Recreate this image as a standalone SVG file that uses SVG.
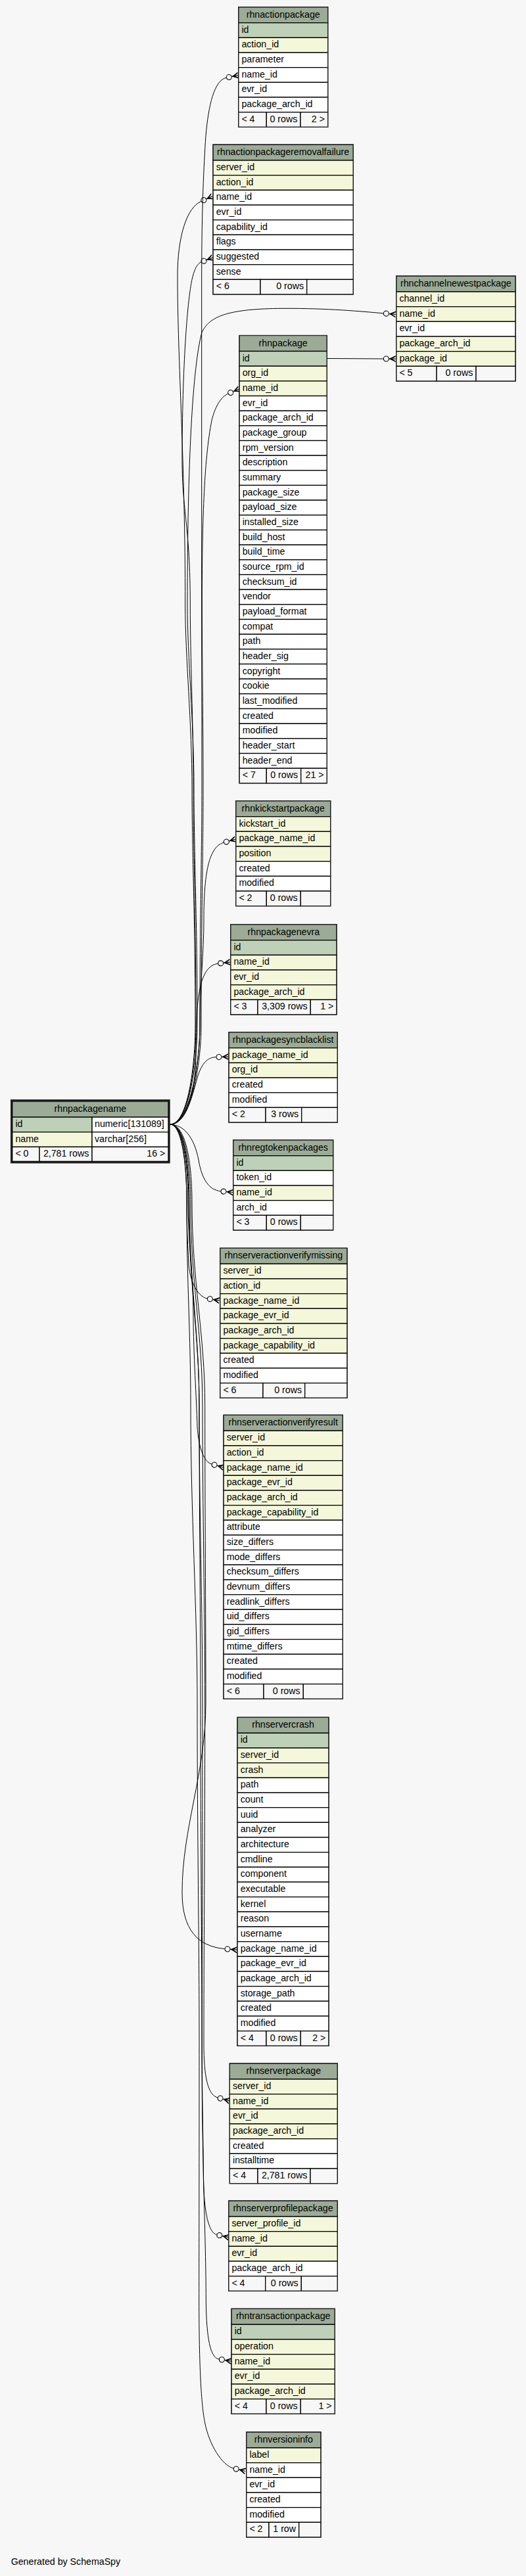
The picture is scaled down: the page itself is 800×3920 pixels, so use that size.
<svg xmlns="http://www.w3.org/2000/svg" width="800" height="3920" viewBox="0 0 800 3920">
<style>
.c{stroke:#000;stroke-width:1.3}
.h{fill:#9bab96}
.k{fill:#bed1b8}
.f{fill:#f4f7da}
.w{fill:#fff}
.g{fill:#f7f7f7}
.o{fill:none;stroke:#2a2a2a;stroke-width:1}
text{font-family:"Liberation Sans",Arial,Helvetica,sans-serif;font-size:14.2px;fill:#000}
.m{text-anchor:middle}
.r{text-anchor:end}
.e{fill:none;stroke:#000;stroke-width:1;marker-end:url(#cf)}
</style>
<defs>
<marker id="cf" markerUnits="userSpaceOnUse" viewBox="-2 -7 24 14" markerWidth="24" markerHeight="14" refX="0" refY="0" orient="auto" overflow="visible">
<circle cx="4.3" cy="0" r="4" fill="none" stroke="#000" stroke-width="1.1"/>
<polygon points="8.6,0 18.7,-5 18.7,-3.2 12.8,0 18.7,3.2 18.7,5" fill="#000"/>
<path d="M8.6,0 L18.7,0" stroke="#000" stroke-width="1.2"/>
</marker>
</defs>
<rect x="0" y="0" width="800" height="3920" fill="#f7f7f7"/>

<g id="connectors">
<path class="e" d="M258.7,1711 C289,1711 304,1620 304,1560 C304,1400 307,1300 307,1200 C307,1100 306.7,1000 306.7,900 L306.7,420 C306.7,320 310,250 313,207 C317,160 326,122 344.1,118.3"/>
<path class="e" d="M258.7,1711 C286,1711 297,1620 297,1560 C297,1400 292,1300 292,1200 C292,1100 281.7,1000 281.7,920 C281.7,700 270,550 270,420 C270,360 284,316 305.9,306.3"/>
<path class="e" d="M258.7,1711 C287,1711 298,1620 298,1560 C298,1400 294,1300 294,1200 C294,1100 289.3,1000 289.3,920 C289.3,800 277,780 277,700 C277,560 285,450 293.3,420 C296,410 300,401 306,398.7"/>
<path class="e" d="M258.7,1711 C287,1711 300,1620 300,1560 C300,1400 295,1300 295,1200 C295,1100 285,1000 285,920 C285,700 293,560 306.7,506.7 C318,480 350,470 430,469.3 C500,469 550,474 583,476.8"/>
<path class="e" d="M258.7,1711 C290,1711 306,1620 306,1560 C306,1400 309,1300 309,1200 C309,1100 307.3,1000 307.3,920 C307.3,800 310,700 322,640 C328,615 338,603 346.8,599.2"/>
<path class="e" d="M497.3,545.5 L583,546"/>
<path class="e" d="M258.7,1711 C288,1711 304,1620 304,1560 C304,1500 310,1450 310,1400 C310,1320 320,1288 340.2,1282.2"/>
<path class="e" d="M258.7,1711 C285,1711 298,1660 298,1600 C298,1520 303,1470 331.4,1466.4"/>
<path class="e" d="M258.7,1711 C282,1711 292,1670 300,1640 C307,1618 315,1609 328.7,1608.6"/>
<path class="e" d="M258.7,1711 C280,1712 295,1730 302,1765 C307,1795 318,1811 335.7,1812.7"/>
<path class="e" d="M258.7,1711 C278,1711 284,1780 284,1830 C284,1870 286,1900 287,1925 C290,1955 303,1974 315.1,1976"/>
<path class="e" d="M258.7,1711 C280,1711 286,1780 286,1830 C286,1890 294,1940 294,2000 C294,2060 299,2130 300,2170 C302,2205 311,2225 321.9,2228"/>
<path class="e" d="M258.7,1711 C285,1711 292,1780 292,1830 C292,1950 311.7,2030 311.7,2140 C311.7,2300 313,2450 313,2590 C313,2700 277,2780 277,2880 C277,2935 300,2962 341.7,2965.6"/>
<path class="e" d="M258.7,1711 C283,1711 290,1780 290,1830 C290,1950 308,2030 308,2140 C308,2300 311.7,2450 311.7,2590 C311.7,2800 310,2950 310,3110 C310,3160 316,3188 330.9,3192"/>
<path class="e" d="M258.7,1711 C282,1711 288,1780 288,1830 C288,1950 303,2030 303,2140 C303,2300 308,2450 308,2590 C308,2800 307.3,2950 307.3,3110 C307.3,3200 309.3,3260 309.3,3310 C310,3370 318,3398 329.6,3400.6"/>
<path class="e" d="M258.7,1711 C281,1711 287,1780 287,1830 C287,1950 303,2030 303,2140 C303,2300 305,2450 305,2590 C305,2800 307,2950 307,3110 C307,3300 313.3,3400 313.3,3500 C314,3560 320,3588 333.1,3590.1"/>
<path class="e" d="M258.7,1711 C279,1711 284,1780 284,1830 C284,1950 290,2030 290,2140 C290,2300 300,2450 300,2590 C300,2800 303,2950 303,3110 C303,3300 302.7,3400 302.7,3500 C302.7,3600 306,3660 311.7,3687 C318,3720 338,3752 355,3756.1"/>
</g>

<g id="rhnactionpackage" transform="translate(362.7,10.7)">
<rect class="c h" width="136" height="24"/><text class="m" x="68" y="16">rhnactionpackage</text>
<rect class="c k" y="24" width="136" height="22.67"/><text x="4.7" y="39">id</text>
<rect class="c f" y="46.67" width="136" height="22.67"/><text x="4.7" y="61.67">action_id</text>
<rect class="c w" y="69.33" width="136" height="22.67"/><text x="4.7" y="84.33">parameter</text>
<rect class="c w" y="92" width="136" height="22.67"/><text x="4.7" y="107">name_id</text>
<rect class="c w" y="114.67" width="136" height="22.67"/><text x="4.7" y="129.67">evr_id</text>
<rect class="c w" y="137.33" width="136" height="22.67"/><text x="4.7" y="152.33">package_arch_id</text>
<rect class="c g" y="160" width="42.6" height="22.67"/><rect class="c g" x="42.6" y="160" width="51.7" height="22.67"/><rect class="c g" x="94.3" y="160" width="41.7" height="22.67"/>
<text x="4.7" y="175">&lt; 4</text><text class="r" x="89.6" y="175">0 rows</text><text class="r" x="131.3" y="175">2 &gt;</text>
<rect class="o" width="136" height="182.67"/>
</g>

<g id="rhnactionpackageremovalfailure" transform="translate(324,220)">
<rect class="c h" width="213.3" height="24"/><text class="m" x="106.65" y="16">rhnactionpackageremovalfailure</text>
<rect class="c f" y="24" width="213.3" height="22.67"/><text x="4.7" y="39">server_id</text>
<rect class="c f" y="46.67" width="213.3" height="22.67"/><text x="4.7" y="61.67">action_id</text>
<rect class="c w" y="69.33" width="213.3" height="22.67"/><text x="4.7" y="84.33">name_id</text>
<rect class="c w" y="92" width="213.3" height="22.67"/><text x="4.7" y="107">evr_id</text>
<rect class="c w" y="114.67" width="213.3" height="22.67"/><text x="4.7" y="129.67">capability_id</text>
<rect class="c w" y="137.33" width="213.3" height="22.67"/><text x="4.7" y="152.33">flags</text>
<rect class="c w" y="160" width="213.3" height="22.67"/><text x="4.7" y="175">suggested</text>
<rect class="c w" y="182.67" width="213.3" height="22.67"/><text x="4.7" y="197.67">sense</text>
<rect class="c g" y="205.33" width="72" height="22.67"/><rect class="c g" x="72" y="205.33" width="70.7" height="22.67"/><rect class="c g" x="142.7" y="205.33" width="70.6" height="22.67"/>
<text x="4.7" y="220.33">&lt; 6</text><text class="r" x="138" y="220.33">0 rows</text>
<rect class="o" width="213.3" height="228"/>
</g>

<g id="rhnchannelnewestpackage" transform="translate(602.7,420)">
<rect class="c h" width="181.3" height="24"/><text class="m" x="90.65" y="16">rhnchannelnewestpackage</text>
<rect class="c f" y="24" width="181.3" height="22.67"/><text x="4.7" y="39">channel_id</text>
<rect class="c f" y="46.67" width="181.3" height="22.67"/><text x="4.7" y="61.67">name_id</text>
<rect class="c w" y="69.33" width="181.3" height="22.67"/><text x="4.7" y="84.33">evr_id</text>
<rect class="c f" y="92" width="181.3" height="22.67"/><text x="4.7" y="107">package_arch_id</text>
<rect class="c f" y="114.67" width="181.3" height="22.67"/><text x="4.7" y="129.67">package_id</text>
<rect class="c g" y="137.33" width="61.3" height="22.67"/><rect class="c g" x="61.3" y="137.33" width="60" height="22.67"/><rect class="c g" x="121.3" y="137.33" width="60" height="22.67"/>
<text x="4.7" y="152.33">&lt; 5</text><text class="r" x="116.6" y="152.33">0 rows</text>
<rect class="o" width="181.3" height="160"/>
</g>

<g id="rhnpackage" transform="translate(364,510.5)">
<rect class="c h" width="133.3" height="24"/><text class="m" x="66.65" y="16">rhnpackage</text>
<rect class="c k" y="24" width="133.3" height="22.67"/><text x="4.7" y="39">id</text>
<rect class="c f" y="46.67" width="133.3" height="22.67"/><text x="4.7" y="61.67">org_id</text>
<rect class="c f" y="69.33" width="133.3" height="22.67"/><text x="4.7" y="84.33">name_id</text>
<rect class="c w" y="92" width="133.3" height="22.67"/><text x="4.7" y="107">evr_id</text>
<rect class="c w" y="114.67" width="133.3" height="22.67"/><text x="4.7" y="129.67">package_arch_id</text>
<rect class="c w" y="137.33" width="133.3" height="22.67"/><text x="4.7" y="152.33">package_group</text>
<rect class="c w" y="160" width="133.3" height="22.67"/><text x="4.7" y="175">rpm_version</text>
<rect class="c w" y="182.67" width="133.3" height="22.67"/><text x="4.7" y="197.67">description</text>
<rect class="c w" y="205.33" width="133.3" height="22.67"/><text x="4.7" y="220.33">summary</text>
<rect class="c w" y="228" width="133.3" height="22.67"/><text x="4.7" y="243">package_size</text>
<rect class="c w" y="250.67" width="133.3" height="22.67"/><text x="4.7" y="265.67">payload_size</text>
<rect class="c w" y="273.33" width="133.3" height="22.67"/><text x="4.7" y="288.33">installed_size</text>
<rect class="c w" y="296" width="133.3" height="22.67"/><text x="4.7" y="311">build_host</text>
<rect class="c w" y="318.67" width="133.3" height="22.67"/><text x="4.7" y="333.67">build_time</text>
<rect class="c w" y="341.33" width="133.3" height="22.67"/><text x="4.7" y="356.33">source_rpm_id</text>
<rect class="c w" y="364" width="133.3" height="22.67"/><text x="4.7" y="379">checksum_id</text>
<rect class="c w" y="386.67" width="133.3" height="22.67"/><text x="4.7" y="401.67">vendor</text>
<rect class="c w" y="409.33" width="133.3" height="22.67"/><text x="4.7" y="424.33">payload_format</text>
<rect class="c w" y="432" width="133.3" height="22.67"/><text x="4.7" y="447">compat</text>
<rect class="c w" y="454.67" width="133.3" height="22.67"/><text x="4.7" y="469.67">path</text>
<rect class="c w" y="477.33" width="133.3" height="22.67"/><text x="4.7" y="492.33">header_sig</text>
<rect class="c w" y="500" width="133.3" height="22.67"/><text x="4.7" y="515">copyright</text>
<rect class="c w" y="522.67" width="133.3" height="22.67"/><text x="4.7" y="537.67">cookie</text>
<rect class="c w" y="545.33" width="133.3" height="22.67"/><text x="4.7" y="560.33">last_modified</text>
<rect class="c w" y="568" width="133.3" height="22.67"/><text x="4.7" y="583">created</text>
<rect class="c w" y="590.67" width="133.3" height="22.67"/><text x="4.7" y="605.67">modified</text>
<rect class="c w" y="613.33" width="133.3" height="22.67"/><text x="4.7" y="628.33">header_start</text>
<rect class="c w" y="636" width="133.3" height="22.67"/><text x="4.7" y="651">header_end</text>
<rect class="c g" y="658.67" width="41.3" height="22.67"/><rect class="c g" x="41.3" y="658.67" width="52.4" height="22.67"/><rect class="c g" x="93.7" y="658.67" width="39.6" height="22.67"/>
<text x="4.7" y="673.67">&lt; 7</text><text class="r" x="89" y="673.67">0 rows</text><text class="r" x="128.6" y="673.67">21 &gt;</text>
<rect class="o" width="133.3" height="681.33"/>
</g>

<g id="rhnkickstartpackage" transform="translate(358.7,1218.7)">
<rect class="c h" width="144" height="24"/><text class="m" x="72" y="16">rhnkickstartpackage</text>
<rect class="c f" y="24" width="144" height="22.67"/><text x="4.7" y="39">kickstart_id</text>
<rect class="c f" y="46.67" width="144" height="22.67"/><text x="4.7" y="61.67">package_name_id</text>
<rect class="c f" y="69.33" width="144" height="22.67"/><text x="4.7" y="84.33">position</text>
<rect class="c w" y="92" width="144" height="22.67"/><text x="4.7" y="107">created</text>
<rect class="c w" y="114.67" width="144" height="22.67"/><text x="4.7" y="129.67">modified</text>
<rect class="c g" y="137.33" width="46.6" height="22.67"/><rect class="c g" x="46.6" y="137.33" width="52" height="22.67"/><rect class="c g" x="98.6" y="137.33" width="45.4" height="22.67"/>
<text x="4.7" y="152.33">&lt; 2</text><text class="r" x="93.9" y="152.33">0 rows</text>
<rect class="o" width="144" height="160"/>
</g>

<g id="rhnpackagenevra" transform="translate(350.7,1406.7)">
<rect class="c h" width="161.3" height="24"/><text class="m" x="80.65" y="16">rhnpackagenevra</text>
<rect class="c k" y="24" width="161.3" height="22.67"/><text x="4.7" y="39">id</text>
<rect class="c f" y="46.67" width="161.3" height="22.67"/><text x="4.7" y="61.67">name_id</text>
<rect class="c f" y="69.33" width="161.3" height="22.67"/><text x="4.7" y="84.33">evr_id</text>
<rect class="c f" y="92" width="161.3" height="22.67"/><text x="4.7" y="107">package_arch_id</text>
<rect class="c g" y="114.67" width="41.3" height="22.67"/><rect class="c g" x="41.3" y="114.67" width="80.3" height="22.67"/><rect class="c g" x="121.6" y="114.67" width="39.7" height="22.67"/>
<text x="4.7" y="129.67">&lt; 3</text><text class="r" x="116.9" y="129.67">3,309 rows</text><text class="r" x="156.6" y="129.67">1 &gt;</text>
<rect class="o" width="161.3" height="137.33"/>
</g>

<g id="rhnpackagesyncblacklist" transform="translate(348,1570.7)">
<rect class="c h" width="165.3" height="24"/><text class="m" x="82.65" y="16">rhnpackagesyncblacklist</text>
<rect class="c f" y="24" width="165.3" height="22.67"/><text x="4.7" y="39">package_name_id</text>
<rect class="c f" y="46.67" width="165.3" height="22.67"/><text x="4.7" y="61.67">org_id</text>
<rect class="c w" y="69.33" width="165.3" height="22.67"/><text x="4.7" y="84.33">created</text>
<rect class="c w" y="92" width="165.3" height="22.67"/><text x="4.7" y="107">modified</text>
<rect class="c g" y="114.67" width="56" height="22.67"/><rect class="c g" x="56" y="114.67" width="54.7" height="22.67"/><rect class="c g" x="110.7" y="114.67" width="54.6" height="22.67"/>
<text x="4.7" y="129.67">&lt; 2</text><text class="r" x="106" y="129.67">3 rows</text>
<rect class="o" width="165.3" height="137.33"/>
</g>

<g id="rhnpackagename">
<rect x="17.35" y="1674.4" width="240" height="94.6" fill="none" stroke="#222" stroke-width="2.7"/>
<g transform="translate(18.7,1676)">
<rect class="c h" width="237.3" height="24"/><text class="m" x="118.65" y="16">rhnpackagename</text>
<rect class="c k" y="24" width="121.3" height="22.67"/><text x="4.7" y="39">id</text>
<rect class="c w" x="121.3" y="24" width="116" height="22.67"/><text x="125.3" y="39">numeric[131089]</text>
<rect class="c f" y="46.67" width="121.3" height="22.67"/><text x="4.7" y="61.67">name</text>
<rect class="c w" x="121.3" y="46.67" width="116" height="22.67"/><text x="125.3" y="61.67">varchar[256]</text>
<rect class="c g" y="69.33" width="41.3" height="22" /><rect class="c g" x="41.3" y="69.33" width="80" height="22"/><rect class="c g" x="121.3" y="69.33" width="116" height="22"/>
<text x="4.7" y="84.33">&lt; 0</text><text class="r" x="116.6" y="84.33">2,781 rows</text><text class="r" x="232.6" y="84.33">16 &gt;</text>
</g>
</g>

<g id="rhnregtokenpackages" transform="translate(354.7,1734.7)">
<rect class="c h" width="152" height="24"/><text class="m" x="76" y="16">rhnregtokenpackages</text>
<rect class="c k" y="24" width="152" height="22.67"/><text x="4.7" y="39">id</text>
<rect class="c w" y="46.67" width="152" height="22.67"/><text x="4.7" y="61.67">token_id</text>
<rect class="c f" y="69.33" width="152" height="22.67"/><text x="4.7" y="84.33">name_id</text>
<rect class="c w" y="92" width="152" height="22.67"/><text x="4.7" y="107">arch_id</text>
<rect class="c g" y="114.67" width="50.6" height="22.67"/><rect class="c g" x="50.6" y="114.67" width="52" height="22.67"/><rect class="c g" x="102.6" y="114.67" width="49.4" height="22.67"/>
<text x="4.7" y="129.67">&lt; 3</text><text class="r" x="97.9" y="129.67">0 rows</text>
<rect class="o" width="152" height="137.33"/>
</g>

<g id="rhnserveractionverifymissing" transform="translate(334.7,1899.3)">
<rect class="c h" width="193.3" height="24"/><text class="m" x="96.65" y="16">rhnserveractionverifymissing</text>
<rect class="c f" y="24" width="193.3" height="22.67"/><text x="4.7" y="39">server_id</text>
<rect class="c f" y="46.67" width="193.3" height="22.67"/><text x="4.7" y="61.67">action_id</text>
<rect class="c f" y="69.33" width="193.3" height="22.67"/><text x="4.7" y="84.33">package_name_id</text>
<rect class="c f" y="92" width="193.3" height="22.67"/><text x="4.7" y="107">package_evr_id</text>
<rect class="c f" y="114.67" width="193.3" height="22.67"/><text x="4.7" y="129.67">package_arch_id</text>
<rect class="c f" y="137.33" width="193.3" height="22.67"/><text x="4.7" y="152.33">package_capability_id</text>
<rect class="c w" y="160" width="193.3" height="22.67"/><text x="4.7" y="175">created</text>
<rect class="c w" y="182.67" width="193.3" height="22.67"/><text x="4.7" y="197.67">modified</text>
<rect class="c g" y="205.33" width="65.3" height="22.67"/><rect class="c g" x="65.3" y="205.33" width="63.7" height="22.67"/><rect class="c g" x="129" y="205.33" width="64.3" height="22.67"/>
<text x="4.7" y="220.33">&lt; 6</text><text class="r" x="124.3" y="220.33">0 rows</text>
<rect class="o" width="193.3" height="228"/>
</g>

<g id="rhnserveractionverifyresult" transform="translate(340,2153.3)">
<rect class="c h" width="181.3" height="24"/><text class="m" x="90.65" y="16">rhnserveractionverifyresult</text>
<rect class="c f" y="24" width="181.3" height="22.67"/><text x="4.7" y="39">server_id</text>
<rect class="c f" y="46.67" width="181.3" height="22.67"/><text x="4.7" y="61.67">action_id</text>
<rect class="c f" y="69.33" width="181.3" height="22.67"/><text x="4.7" y="84.33">package_name_id</text>
<rect class="c f" y="92" width="181.3" height="22.67"/><text x="4.7" y="107">package_evr_id</text>
<rect class="c f" y="114.67" width="181.3" height="22.67"/><text x="4.7" y="129.67">package_arch_id</text>
<rect class="c f" y="137.33" width="181.3" height="22.67"/><text x="4.7" y="152.33">package_capability_id</text>
<rect class="c w" y="160" width="181.3" height="22.67"/><text x="4.7" y="175">attribute</text>
<rect class="c w" y="182.67" width="181.3" height="22.67"/><text x="4.7" y="197.67">size_differs</text>
<rect class="c w" y="205.33" width="181.3" height="22.67"/><text x="4.7" y="220.33">mode_differs</text>
<rect class="c w" y="228" width="181.3" height="22.67"/><text x="4.7" y="243">checksum_differs</text>
<rect class="c w" y="250.67" width="181.3" height="22.67"/><text x="4.7" y="265.67">devnum_differs</text>
<rect class="c w" y="273.33" width="181.3" height="22.67"/><text x="4.7" y="288.33">readlink_differs</text>
<rect class="c w" y="296" width="181.3" height="22.67"/><text x="4.7" y="311">uid_differs</text>
<rect class="c w" y="318.67" width="181.3" height="22.67"/><text x="4.7" y="333.67">gid_differs</text>
<rect class="c w" y="341.33" width="181.3" height="22.67"/><text x="4.7" y="356.33">mtime_differs</text>
<rect class="c w" y="364" width="181.3" height="22.67"/><text x="4.7" y="379">created</text>
<rect class="c w" y="386.67" width="181.3" height="22.67"/><text x="4.7" y="401.67">modified</text>
<rect class="c g" y="409.33" width="61" height="22.67"/><rect class="c g" x="61" y="409.33" width="60.3" height="22.67"/><rect class="c g" x="121.3" y="409.33" width="60" height="22.67"/>
<text x="4.7" y="424.33">&lt; 6</text><text class="r" x="116.6" y="424.33">0 rows</text>
<rect class="o" width="181.3" height="432"/>
</g>

<g id="rhnservercrash" transform="translate(361,2613.3)">
<rect class="c h" width="139" height="24"/><text class="m" x="69.5" y="16">rhnservercrash</text>
<rect class="c k" y="24" width="139" height="22.67"/><text x="4.7" y="39">id</text>
<rect class="c f" y="46.67" width="139" height="22.67"/><text x="4.7" y="61.67">server_id</text>
<rect class="c f" y="69.33" width="139" height="22.67"/><text x="4.7" y="84.33">crash</text>
<rect class="c w" y="92" width="139" height="22.67"/><text x="4.7" y="107">path</text>
<rect class="c w" y="114.67" width="139" height="22.67"/><text x="4.7" y="129.67">count</text>
<rect class="c w" y="137.33" width="139" height="22.67"/><text x="4.7" y="152.33">uuid</text>
<rect class="c w" y="160" width="139" height="22.67"/><text x="4.7" y="175">analyzer</text>
<rect class="c w" y="182.67" width="139" height="22.67"/><text x="4.7" y="197.67">architecture</text>
<rect class="c w" y="205.33" width="139" height="22.67"/><text x="4.7" y="220.33">cmdline</text>
<rect class="c w" y="228" width="139" height="22.67"/><text x="4.7" y="243">component</text>
<rect class="c w" y="250.67" width="139" height="22.67"/><text x="4.7" y="265.67">executable</text>
<rect class="c w" y="273.33" width="139" height="22.67"/><text x="4.7" y="288.33">kernel</text>
<rect class="c w" y="296" width="139" height="22.67"/><text x="4.7" y="311">reason</text>
<rect class="c w" y="318.67" width="139" height="22.67"/><text x="4.7" y="333.67">username</text>
<rect class="c w" y="341.33" width="139" height="22.67"/><text x="4.7" y="356.33">package_name_id</text>
<rect class="c w" y="364" width="139" height="22.67"/><text x="4.7" y="379">package_evr_id</text>
<rect class="c w" y="386.67" width="139" height="22.67"/><text x="4.7" y="401.67">package_arch_id</text>
<rect class="c w" y="409.33" width="139" height="22.67"/><text x="4.7" y="424.33">storage_path</text>
<rect class="c w" y="432" width="139" height="22.67"/><text x="4.7" y="447">created</text>
<rect class="c w" y="454.67" width="139" height="22.67"/><text x="4.7" y="469.67">modified</text>
<rect class="c g" y="477.33" width="44" height="22.67"/><rect class="c g" x="44" y="477.33" width="52.3" height="22.67"/><rect class="c g" x="96.3" y="477.33" width="42.7" height="22.67"/>
<text x="4.7" y="492.33">&lt; 4</text><text class="r" x="91.6" y="492.33">0 rows</text><text class="r" x="134.3" y="492.33">2 &gt;</text>
<rect class="o" width="139" height="500"/>
</g>

<g id="rhnserverpackage" transform="translate(349.3,3140)">
<rect class="c h" width="164" height="24"/><text class="m" x="82" y="16">rhnserverpackage</text>
<rect class="c f" y="24" width="164" height="22.67"/><text x="4.7" y="39">server_id</text>
<rect class="c f" y="46.67" width="164" height="22.67"/><text x="4.7" y="61.67">name_id</text>
<rect class="c f" y="69.33" width="164" height="22.67"/><text x="4.7" y="84.33">evr_id</text>
<rect class="c f" y="92" width="164" height="22.67"/><text x="4.7" y="107">package_arch_id</text>
<rect class="c w" y="114.67" width="164" height="22.67"/><text x="4.7" y="129.67">created</text>
<rect class="c w" y="137.33" width="164" height="22.67"/><text x="4.7" y="152.33">installtime</text>
<rect class="c g" y="160" width="42.7" height="22.67"/><rect class="c g" x="42.7" y="160" width="80" height="22.67"/><rect class="c g" x="122.7" y="160" width="41.3" height="22.67"/>
<text x="4.7" y="175">&lt; 4</text><text class="r" x="118" y="175">2,781 rows</text>
<rect class="o" width="164" height="182.67"/>
</g>

<g id="rhnserverprofilepackage" transform="translate(347.7,3349)">
<rect class="c h" width="165.6" height="24"/><text class="m" x="82.8" y="16">rhnserverprofilepackage</text>
<rect class="c f" y="24" width="165.6" height="22.67"/><text x="4.7" y="39">server_profile_id</text>
<rect class="c f" y="46.67" width="165.6" height="22.67"/><text x="4.7" y="61.67">name_id</text>
<rect class="c f" y="69.33" width="165.6" height="22.67"/><text x="4.7" y="84.33">evr_id</text>
<rect class="c w" y="92" width="165.6" height="22.67"/><text x="4.7" y="107">package_arch_id</text>
<rect class="c g" y="114.67" width="56" height="22.67"/><rect class="c g" x="56" y="114.67" width="54.6" height="22.67"/><rect class="c g" x="110.6" y="114.67" width="55" height="22.67"/>
<text x="4.7" y="129.67">&lt; 4</text><text class="r" x="105.9" y="129.67">0 rows</text>
<rect class="o" width="165.6" height="137.33"/>
</g>

<g id="rhntransactionpackage" transform="translate(352,3513.3)">
<rect class="c h" width="157.3" height="24"/><text class="m" x="78.65" y="16">rhntransactionpackage</text>
<rect class="c k" y="24" width="157.3" height="22.67"/><text x="4.7" y="39">id</text>
<rect class="c f" y="46.67" width="157.3" height="22.67"/><text x="4.7" y="61.67">operation</text>
<rect class="c f" y="69.33" width="157.3" height="22.67"/><text x="4.7" y="84.33">name_id</text>
<rect class="c f" y="92" width="157.3" height="22.67"/><text x="4.7" y="107">evr_id</text>
<rect class="c f" y="114.67" width="157.3" height="22.67"/><text x="4.7" y="129.67">package_arch_id</text>
<rect class="c g" y="137.33" width="53" height="22.67"/><rect class="c g" x="53" y="137.33" width="52.3" height="22.67"/><rect class="c g" x="105.3" y="137.33" width="52" height="22.67"/>
<text x="4.7" y="152.33">&lt; 4</text><text class="r" x="100.6" y="152.33">0 rows</text><text class="r" x="152.6" y="152.33">1 &gt;</text>
<rect class="o" width="157.3" height="160"/>
</g>

<g id="rhnversioninfo" transform="translate(374.7,3701)">
<rect class="c h" width="113.3" height="24"/><text class="m" x="56.65" y="16">rhnversioninfo</text>
<rect class="c f" y="24" width="113.3" height="22.67"/><text x="4.7" y="39">label</text>
<rect class="c w" y="46.67" width="113.3" height="22.67"/><text x="4.7" y="61.67">name_id</text>
<rect class="c w" y="69.33" width="113.3" height="22.67"/><text x="4.7" y="84.33">evr_id</text>
<rect class="c w" y="92" width="113.3" height="22.67"/><text x="4.7" y="107">created</text>
<rect class="c w" y="114.67" width="113.3" height="22.67"/><text x="4.7" y="129.67">modified</text>
<rect class="c g" y="137.33" width="34.3" height="22.67"/><rect class="c g" x="34.3" y="137.33" width="45.7" height="22.67"/><rect class="c g" x="80" y="137.33" width="33.3" height="22.67"/>
<text x="4.7" y="152.33">&lt; 2</text><text class="r" x="75.3" y="152.33">1 row</text>
<rect class="o" width="113.3" height="160"/>
</g>

<text x="16.7" y="3903">Generated by SchemaSpy</text>
</svg>
